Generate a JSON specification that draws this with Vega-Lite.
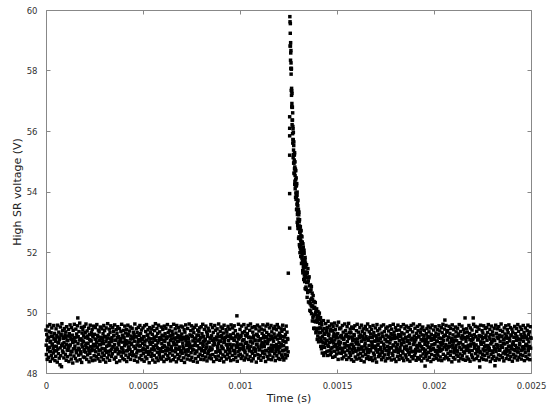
{
"$schema":"https://vega.github.io/schema/vega-lite/v6.json",
"width":485,"height":363,
"autosize":{"type":"none"},
"padding":{"left":46,"top":10,"right":19,"bottom":37},
"background":"white",
"config":{"view":{"stroke":"#888","strokeWidth":1},"font":"DejaVu Sans"},
"data":{"values":[
{"t":1257,"v":59.78},{"t":1256,"v":56.47},{"t":1256,"v":56.09},{"t":1256,"v":55.84},{"t":1256,"v":55.2},{"t":1256,"v":53.93},{"t":1256,"v":52.79},{"t":1249,"v":51.3},
{"t":1258,"v":59.61},{"t":1258.5,"v":58.81},{"t":1259,"v":59.23},{"t":1259.5,"v":59.55},{"t":1260,"v":58.81},{"t":1260.5,"v":58.34},{"t":1261,"v":58.92},{"t":1261.5,"v":58.58},{"t":1262,"v":58.07},{"t":1262.5,"v":58.66},{"t":1263,"v":58.25},{"t":1263.5,"v":57.88},{"t":1264,"v":57.34},{"t":1264.5,"v":58.04},{"t":1265,"v":58.07},{"t":1265.5,"v":57.18},{"t":1266,"v":57.41},{"t":1266.5,"v":56.8},{"t":1267,"v":57.32},{"t":1267.5,"v":56.91},{"t":1268,"v":57.24},{"t":1268.5,"v":56.21},{"t":1269,"v":56.78},{"t":1269.5,"v":56.36},{"t":1270,"v":56.79},{"t":1270.5,"v":56.36},{"t":1271,"v":55.91},{"t":1271.5,"v":56.6},{"t":1272,"v":55.6},{"t":1272.5,"v":56.15},{"t":1273,"v":55.72},{"t":1273.5,"v":56.07},{"t":1274,"v":55.12},{"t":1274.5,"v":55.71},{"t":1275,"v":55.95},{"t":1275.5,"v":55.22},{"t":1276,"v":55.37},{"t":1276.5,"v":54.94},{"t":1277,"v":55.52},{"t":1277.5,"v":55.64},{"t":1278,"v":54.94},{"t":1278.5,"v":54.61},{"t":1279,"v":55.2},{"t":1279.5,"v":55.04},{"t":1280,"v":54.59},{"t":1280.5,"v":55.22},{"t":1281,"v":54.75},{"t":1281.5,"v":55.28},{"t":1282,"v":54.23},{"t":1282.5,"v":54.81},{"t":1283,"v":54.34},{"t":1283.5,"v":54.98},{"t":1284,"v":54.53},{"t":1284.5,"v":54.09},{"t":1285,"v":54.69},{"t":1285.5,"v":54.74},{"t":1286,"v":54.26},{"t":1286.5,"v":53.81},{"t":1287,"v":54.39},{"t":1287.5,"v":54.69},{"t":1288,"v":53.95},{"t":1288.5,"v":54.19},{"t":1289,"v":53.74},{"t":1289.5,"v":54.45},{"t":1290,"v":54.19},{"t":1290.5,"v":53.83},{"t":1291,"v":54.2},{"t":1291.5,"v":53.4},{"t":1292,"v":53.87},{"t":1292.5,"v":54.26},{"t":1293,"v":53.42},{"t":1293.5,"v":53.88},{"t":1294,"v":53.57},{"t":1294.5,"v":53.98},{"t":1295,"v":52.98},{"t":1295.5,"v":53.6},{"t":1296,"v":53.24},{"t":1296.5,"v":53.72},{"t":1297,"v":53.33},{"t":1297.5,"v":52.88},{"t":1298,"v":53.53},{"t":1298.5,"v":53.7},{"t":1299,"v":53.09},{"t":1299.5,"v":52.78},{"t":1300,"v":53.25},
{"t":1301,"v":52.78},{"t":1301,"v":53.41},{"t":1302,"v":53.06},{"t":1302,"v":52.45},{"t":1303,"v":53.23},{"t":1303,"v":52.81},{"t":1304,"v":53.32},{"t":1304,"v":52.5},{"t":1305,"v":52.77},{"t":1305,"v":53.0},{"t":1306,"v":52.24},{"t":1306,"v":52.86},{"t":1307,"v":52.45},{"t":1307,"v":53.07},{"t":1308,"v":52.18},{"t":1308,"v":52.65},{"t":1309,"v":52.83},{"t":1309,"v":51.98},{"t":1310,"v":52.66},{"t":1310,"v":52.44},{"t":1311,"v":52.84},{"t":1311,"v":52.13},{"t":1312,"v":52.25},{"t":1312,"v":52.73},{"t":1313,"v":52.38},{"t":1313,"v":51.85},{"t":1314,"v":52.54},{"t":1314,"v":52.06},{"t":1315,"v":52.7},{"t":1315,"v":51.86},{"t":1316,"v":52.31},{"t":1316,"v":52.12},{"t":1317,"v":52.52},{"t":1317,"v":51.62},{"t":1318,"v":52.33},{"t":1318,"v":52.11},{"t":1319,"v":51.8},{"t":1319,"v":52.5},{"t":1320,"v":51.87},{"t":1320,"v":52.32},
{"t":1321,"v":52.32},{"t":1322,"v":51.7},{"t":1323,"v":51.96},{"t":1324,"v":51.31},{"t":1325,"v":52.03},{"t":1326,"v":52.16},{"t":1327,"v":51.34},{"t":1328,"v":51.65},{"t":1329,"v":51.47},{"t":1330,"v":52.06},{"t":1331,"v":51.1},{"t":1332,"v":51.64},{"t":1333,"v":51.49},{"t":1334,"v":51.12},{"t":1335,"v":51.74},{"t":1336,"v":50.79},{"t":1337,"v":51.51},{"t":1338,"v":51.18},{"t":1339,"v":51.57},{"t":1340,"v":50.84},
{"t":1321.5,"v":51.63},{"t":1322.5,"v":52.08},{"t":1323.5,"v":51.39},{"t":1324.5,"v":52.27},{"t":1325.5,"v":51.73},{"t":1326.5,"v":51.52},{"t":1327.5,"v":51.96},{"t":1328.5,"v":51.09},{"t":1329.5,"v":51.71},{"t":1330.5,"v":51.96},{"t":1331.5,"v":51.24},{"t":1332.5,"v":51.52},{"t":1333.5,"v":51.02},{"t":1334.5,"v":51.63},{"t":1335.5,"v":51.82},{"t":1336.5,"v":51.2},{"t":1337.5,"v":51.63},{"t":1338.5,"v":50.79},{"t":1339.5,"v":51.34},{"t":1340.5,"v":51.16},
{"t":1341,"v":51.29},{"t":1342,"v":50.76},{"t":1343,"v":51.58},{"t":1344,"v":50.99},{"t":1345,"v":51.3},{"t":1346,"v":50.5},{"t":1347,"v":51.32},{"t":1348,"v":51.0},{"t":1349,"v":50.66},{"t":1350,"v":51.45},{"t":1351,"v":50.7},{"t":1352,"v":51.04},{"t":1353,"v":50.35},{"t":1354,"v":51.14},{"t":1355,"v":50.7},{"t":1356,"v":51.18},{"t":1357,"v":50.33},{"t":1358,"v":50.72},{"t":1359,"v":50.88},{"t":1360,"v":50.07},{"t":1361,"v":50.7},{"t":1362,"v":50.29},{"t":1363,"v":50.91},{"t":1364,"v":50.04},{"t":1365,"v":50.43},{"t":1366,"v":50.75},{"t":1367,"v":50.23},{"t":1368,"v":50.86},{"t":1369,"v":49.96},{"t":1370,"v":50.47},{"t":1371,"v":50.19},{"t":1372,"v":50.64},{"t":1373,"v":49.72},{"t":1374,"v":50.42},{"t":1375,"v":50.22},{"t":1376,"v":49.83},{"t":1377,"v":50.56},{"t":1378,"v":49.89},{"t":1379,"v":50.36},{"t":1380,"v":49.48},{"t":1381,"v":50.14},{"t":1382,"v":50.36},{"t":1383,"v":49.71},{"t":1384,"v":49.46},{"t":1385,"v":50.17},{"t":1386,"v":49.93},{"t":1387,"v":49.48},{"t":1388,"v":50.33},{"t":1389,"v":49.69},{"t":1390,"v":50.0},{"t":1391,"v":49.33},{"t":1392,"v":50.09},{"t":1393,"v":49.72},{"t":1394,"v":49.4},{"t":1395,"v":50.12},{"t":1396,"v":49.46},{"t":1397,"v":49.81},{"t":1398,"v":49.11},{"t":1399,"v":49.9},{"t":1400,"v":49.68},{"t":1401,"v":49.22},{"t":1402,"v":50.03},{"t":1403,"v":49.46},{"t":1404,"v":49.78},{"t":1405,"v":49.03},{"t":1406,"v":49.89},{"t":1407,"v":49.33},{"t":1408,"v":49.49},{"t":1409,"v":49.98},{"t":1410,"v":49.05},{"t":1411,"v":49.63},{"t":1412,"v":49.16},{"t":1413,"v":49.77},{"t":1414,"v":49.34},{"t":1415,"v":49.83},{"t":1416,"v":48.88},{"t":1417,"v":49.49},{"t":1418,"v":49.14},{"t":1419,"v":49.67},
{"t":0,"v":49.42},{"t":2,"v":48.61},{"t":4,"v":49.27},{"t":6,"v":48.45},{"t":8,"v":49.55},{"t":10,"v":48.83},{"t":12,"v":49.18},{"t":14,"v":48.52},{"t":16,"v":49.38},{"t":18,"v":48.71},{"t":20,"v":49.6},{"t":22,"v":48.39},{"t":24,"v":49.05},{"t":26,"v":49.33},{"t":28,"v":48.58},{"t":30,"v":49.49},{"t":32,"v":48.92},{"t":34,"v":48.47},{"t":36,"v":49.21},{"t":38,"v":48.66},{"t":40,"v":49.57},{"t":42,"v":48.88},{"t":44,"v":49.31},{"t":46,"v":48.41},{"t":48,"v":49.12},
{"t":50,"v":48.55},{"t":52,"v":49.46},{"t":54,"v":48.73},{"t":56,"v":49.24},{"t":58,"v":48.36},{"t":60,"v":49.58},{"t":62,"v":49.01},{"t":64,"v":48.64},{"t":66,"v":49.35},{"t":68,"v":48.49},{"t":70,"v":49.16},{"t":72,"v":48.27},{"t":74,"v":49.52},{"t":76,"v":48.57},{"t":78,"v":49.28},{"t":80,"v":48.21},{"t":82,"v":49.63},{"t":84,"v":48.96},{"t":86,"v":49.4},{"t":88,"v":48.68},{"t":90,"v":49.19},{"t":92,"v":48.5},{"t":94,"v":49.47},{"t":96,"v":48.85},{"t":98,"v":49.26},
{"t":100,"v":48.62},{"t":102,"v":49.36},{"t":104,"v":48.42},{"t":106,"v":49.53},{"t":108,"v":49.09},{"t":110,"v":48.54},{"t":112,"v":49.22},{"t":114,"v":48.75},{"t":116,"v":49.44},{"t":118,"v":48.38},{"t":120,"v":49.3},{"t":122,"v":48.9},{"t":124,"v":49.59},{"t":126,"v":48.6},{"t":128,"v":49.14},{"t":130,"v":48.46},{"t":132,"v":49.5},{"t":134,"v":48.7},{"t":136,"v":49.25},{"t":138,"v":48.33},{"t":140,"v":49.41},{"t":142,"v":49.03},{"t":144,"v":48.56},{"t":146,"v":49.61},{"t":148,"v":48.81},
{"t":150,"v":49.17},{"t":152,"v":48.48},{"t":154,"v":49.45},{"t":156,"v":48.67},{"t":158,"v":49.29},{"t":160,"v":48.4},{"t":162,"v":49.56},{"t":164,"v":49.82},{"t":166,"v":49.2},{"t":168,"v":48.59},{"t":170,"v":49.37},{"t":172,"v":48.77},{"t":174,"v":49.65},{"t":176,"v":48.44},{"t":178,"v":49.1},{"t":180,"v":48.63},{"t":182,"v":49.51},{"t":184,"v":48.35},{"t":186,"v":49.32},{"t":188,"v":48.86},{"t":190,"v":49.43},{"t":192,"v":48.53},{"t":194,"v":49.23},{"t":196,"v":48.72},{"t":198,"v":49.54},
{"t":200,"v":48.51},{"t":202,"v":49.34},{"t":204,"v":48.69},{"t":206,"v":49.62},{"t":208,"v":48.98},{"t":210,"v":48.45},{"t":212,"v":49.39},{"t":214,"v":48.6},{"t":216,"v":49.15},{"t":218,"v":48.82},{"t":220,"v":49.48},{"t":222,"v":48.37},{"t":224,"v":49.27},{"t":226,"v":48.65},{"t":228,"v":49.58},{"t":230,"v":49.07},{"t":232,"v":48.5},{"t":234,"v":49.33},{"t":236,"v":48.74},{"t":238,"v":49.44},{"t":240,"v":48.41},{"t":242,"v":49.19},{"t":244,"v":48.89},{"t":246,"v":49.55},{"t":248,"v":48.57},
{"t":250,"v":49.28},{"t":252,"v":48.43},{"t":254,"v":49.5},{"t":256,"v":48.7},{"t":258,"v":49.11},{"t":260,"v":48.55},{"t":262,"v":49.6},{"t":264,"v":48.84},{"t":266,"v":49.24},{"t":268,"v":48.47},{"t":270,"v":49.42},{"t":272,"v":48.62},{"t":274,"v":49.36},{"t":276,"v":48.95},{"t":278,"v":48.39},{"t":280,"v":49.52},{"t":282,"v":48.76},{"t":284,"v":49.18},{"t":286,"v":48.53},{"t":288,"v":49.46},{"t":290,"v":49.0},{"t":292,"v":48.66},{"t":294,"v":49.3},{"t":296,"v":48.44},{"t":298,"v":49.57},
{"t":300,"v":48.58},{"t":302,"v":49.4},{"t":304,"v":48.8},{"t":306,"v":49.21},{"t":308,"v":48.36},{"t":310,"v":49.49},{"t":312,"v":48.68},{"t":314,"v":49.13},{"t":316,"v":48.5},{"t":318,"v":49.63},{"t":320,"v":48.91},{"t":322,"v":49.26},{"t":324,"v":48.6},{"t":326,"v":49.45},{"t":328,"v":48.42},{"t":330,"v":49.34},{"t":332,"v":48.73},{"t":334,"v":49.56},{"t":336,"v":49.04},{"t":338,"v":48.55},{"t":340,"v":49.17},{"t":342,"v":48.64},{"t":344,"v":49.5},{"t":346,"v":48.87},{"t":348,"v":49.38},
{"t":350,"v":49.23},{"t":352,"v":48.46},{"t":354,"v":49.59},{"t":356,"v":48.71},{"t":358,"v":49.08},{"t":360,"v":48.52},{"t":362,"v":49.43},{"t":364,"v":48.35},{"t":366,"v":49.31},{"t":368,"v":48.78},{"t":370,"v":49.53},{"t":372,"v":48.63},{"t":374,"v":49.2},{"t":376,"v":48.93},{"t":378,"v":49.47},{"t":380,"v":48.4},{"t":382,"v":49.12},{"t":384,"v":48.69},{"t":386,"v":49.37},{"t":388,"v":48.56},{"t":390,"v":49.61},{"t":392,"v":48.83},{"t":394,"v":49.25},{"t":396,"v":48.48},{"t":398,"v":49.41},
{"t":400,"v":48.67},{"t":402,"v":49.16},{"t":404,"v":48.44},{"t":406,"v":49.55},{"t":408,"v":48.97},{"t":410,"v":49.32},{"t":412,"v":48.59},{"t":414,"v":49.44},{"t":416,"v":48.38},{"t":418,"v":49.06},{"t":420,"v":48.74},{"t":422,"v":49.58},{"t":424,"v":48.51},{"t":426,"v":49.29},{"t":428,"v":48.86},{"t":430,"v":49.39},{"t":432,"v":48.62},{"t":434,"v":49.52},{"t":436,"v":48.45},{"t":438,"v":49.22},{"t":440,"v":48.99},{"t":442,"v":48.7},{"t":444,"v":49.48},{"t":446,"v":48.57},{"t":448,"v":49.14},
{"t":450,"v":49.35},{"t":452,"v":48.6},{"t":454,"v":49.27},{"t":456,"v":48.42},{"t":458,"v":49.62},{"t":460,"v":48.81},{"t":462,"v":49.19},{"t":464,"v":48.54},{"t":466,"v":49.46},{"t":468,"v":48.66},{"t":470,"v":49.34},{"t":472,"v":48.37},{"t":474,"v":49.02},{"t":476,"v":49.51},{"t":478,"v":48.73},{"t":480,"v":49.24},{"t":482,"v":48.49},{"t":484,"v":49.57},{"t":486,"v":48.9},{"t":488,"v":49.3},{"t":490,"v":48.58},{"t":492,"v":49.42},{"t":494,"v":48.44},{"t":496,"v":49.1},{"t":498,"v":48.76},
{"t":500,"v":49.49},{"t":502,"v":48.64},{"t":504,"v":49.2},{"t":506,"v":48.39},{"t":508,"v":49.56},{"t":510,"v":49.05},{"t":512,"v":48.53},{"t":514,"v":49.37},{"t":516,"v":48.69},{"t":518,"v":49.6},{"t":520,"v":48.47},{"t":522,"v":49.26},{"t":524,"v":48.85},{"t":526,"v":49.43},{"t":528,"v":48.61},{"t":530,"v":49.15},{"t":532,"v":48.34},{"t":534,"v":49.5},{"t":536,"v":48.72},{"t":538,"v":49.33},{"t":540,"v":48.96},{"t":542,"v":48.55},{"t":544,"v":49.45},{"t":546,"v":48.65},{"t":548,"v":49.28},
{"t":550,"v":48.43},{"t":552,"v":49.54},{"t":554,"v":48.78},{"t":556,"v":49.12},{"t":558,"v":48.58},{"t":560,"v":49.4},{"t":562,"v":48.36},{"t":564,"v":49.63},{"t":566,"v":48.92},{"t":568,"v":49.21},{"t":570,"v":48.5},{"t":572,"v":49.47},{"t":574,"v":48.68},{"t":576,"v":49.31},{"t":578,"v":48.41},{"t":580,"v":49.58},{"t":582,"v":49.07},{"t":584,"v":48.62},{"t":586,"v":49.36},{"t":588,"v":48.52},{"t":590,"v":49.17},{"t":592,"v":48.8},{"t":594,"v":49.52},{"t":596,"v":48.46},{"t":598,"v":49.25},
{"t":600,"v":48.71},{"t":602,"v":49.44},{"t":604,"v":48.55},{"t":606,"v":49.09},{"t":608,"v":48.38},{"t":610,"v":49.55},{"t":612,"v":48.87},{"t":614,"v":49.3},{"t":616,"v":48.63},{"t":618,"v":49.48},{"t":620,"v":48.45},{"t":622,"v":49.19},{"t":624,"v":48.74},{"t":626,"v":49.6},{"t":628,"v":48.57},{"t":630,"v":49.34},{"t":632,"v":48.98},{"t":634,"v":48.48},{"t":636,"v":49.41},{"t":638,"v":48.66},{"t":640,"v":49.23},{"t":642,"v":48.4},{"t":644,"v":49.53},{"t":646,"v":48.82},{"t":648,"v":49.13},
{"t":650,"v":49.38},{"t":652,"v":48.59},{"t":654,"v":49.27},{"t":656,"v":48.44},{"t":658,"v":49.61},{"t":660,"v":48.93},{"t":662,"v":49.16},{"t":664,"v":48.53},{"t":666,"v":49.46},{"t":668,"v":48.7},{"t":670,"v":49.32},{"t":672,"v":48.37},{"t":674,"v":49.57},{"t":676,"v":49.04},{"t":678,"v":48.61},{"t":680,"v":49.24},{"t":682,"v":48.47},{"t":684,"v":49.5},{"t":686,"v":48.79},{"t":688,"v":49.39},{"t":690,"v":48.56},{"t":692,"v":49.11},{"t":694,"v":48.69},{"t":696,"v":49.55},{"t":698,"v":48.42},
{"t":700,"v":49.29},{"t":702,"v":48.65},{"t":704,"v":49.52},{"t":706,"v":48.89},{"t":708,"v":49.18},{"t":710,"v":48.5},{"t":712,"v":49.43},{"t":714,"v":48.35},{"t":716,"v":49.35},{"t":718,"v":48.76},{"t":720,"v":49.59},{"t":722,"v":48.6},{"t":724,"v":49.22},{"t":726,"v":49.0},{"t":728,"v":48.46},{"t":730,"v":49.47},{"t":732,"v":48.72},{"t":734,"v":49.14},{"t":736,"v":48.58},{"t":738,"v":49.62},{"t":740,"v":48.84},{"t":742,"v":49.26},{"t":744,"v":48.43},{"t":746,"v":49.4},{"t":748,"v":48.67},
{"t":750,"v":49.56},{"t":752,"v":48.52},{"t":754,"v":49.2},{"t":756,"v":48.77},{"t":758,"v":49.45},{"t":760,"v":48.39},{"t":762,"v":49.33},{"t":764,"v":48.91},{"t":766,"v":49.51},{"t":768,"v":48.64},{"t":770,"v":49.12},{"t":772,"v":48.48},{"t":774,"v":49.58},{"t":776,"v":48.7},{"t":778,"v":49.25},{"t":780,"v":48.36},{"t":782,"v":49.42},{"t":784,"v":49.06},{"t":786,"v":48.55},{"t":788,"v":49.37},{"t":790,"v":48.81},{"t":792,"v":49.49},{"t":794,"v":48.62},{"t":796,"v":49.17},{"t":798,"v":48.45},
{"t":800,"v":49.53},{"t":802,"v":48.73},{"t":804,"v":49.3},{"t":806,"v":48.57},{"t":808,"v":49.61},{"t":810,"v":48.95},{"t":812,"v":49.21},{"t":814,"v":48.44},{"t":816,"v":49.44},{"t":818,"v":48.68},{"t":820,"v":49.08},{"t":822,"v":48.53},{"t":824,"v":49.55},{"t":826,"v":48.86},{"t":828,"v":49.36},{"t":830,"v":48.4},{"t":832,"v":49.27},{"t":834,"v":48.63},{"t":836,"v":49.48},{"t":838,"v":49.02},{"t":840,"v":48.5},{"t":842,"v":49.39},{"t":844,"v":48.75},{"t":846,"v":49.15},{"t":848,"v":48.59},
{"t":850,"v":49.6},{"t":852,"v":48.47},{"t":854,"v":49.23},{"t":856,"v":48.8},{"t":858,"v":49.5},{"t":860,"v":48.61},{"t":862,"v":49.34},{"t":864,"v":48.38},{"t":866,"v":49.13},{"t":868,"v":48.97},{"t":870,"v":49.57},{"t":872,"v":48.54},{"t":874,"v":49.41},{"t":876,"v":48.69},{"t":878,"v":49.19},{"t":880,"v":48.45},{"t":882,"v":49.46},{"t":884,"v":48.88},{"t":886,"v":49.29},{"t":888,"v":48.56},{"t":890,"v":49.62},{"t":892,"v":48.72},{"t":894,"v":49.06},{"t":896,"v":48.42},{"t":898,"v":49.38},
{"t":900,"v":48.66},{"t":902,"v":49.52},{"t":904,"v":48.49},{"t":906,"v":49.24},{"t":908,"v":48.83},{"t":910,"v":49.47},{"t":912,"v":48.6},{"t":914,"v":49.32},{"t":916,"v":48.37},{"t":918,"v":49.58},{"t":920,"v":49.03},{"t":922,"v":48.55},{"t":924,"v":49.18},{"t":926,"v":48.71},{"t":928,"v":49.43},{"t":930,"v":48.46},{"t":932,"v":49.35},{"t":934,"v":48.94},{"t":936,"v":48.62},{"t":938,"v":49.54},{"t":940,"v":48.78},{"t":942,"v":49.2},{"t":944,"v":48.51},{"t":946,"v":49.45},{"t":948,"v":48.67},
{"t":950,"v":49.26},{"t":952,"v":48.41},{"t":954,"v":49.59},{"t":956,"v":48.85},{"t":958,"v":49.14},{"t":960,"v":48.58},{"t":962,"v":49.49},{"t":964,"v":48.74},{"t":966,"v":49.31},{"t":968,"v":48.44},{"t":970,"v":49.56},{"t":972,"v":49.08},{"t":974,"v":48.64},{"t":976,"v":49.4},{"t":978,"v":48.52},{"t":980,"v":49.22},{"t":982,"v":48.9},{"t":984,"v":49.89},{"t":986,"v":48.39},{"t":988,"v":49.28},{"t":990,"v":48.7},{"t":992,"v":49.61},{"t":994,"v":48.57},{"t":996,"v":49.17},{"t":998,"v":48.81},
{"t":1000,"v":49.44},{"t":1002,"v":48.62},{"t":1004,"v":49.21},{"t":1006,"v":48.48},{"t":1008,"v":49.55},{"t":1010,"v":48.93},{"t":1012,"v":49.33},{"t":1014,"v":48.56},{"t":1016,"v":49.1},{"t":1018,"v":48.77},{"t":1020,"v":49.6},{"t":1022,"v":48.43},{"t":1024,"v":49.37},{"t":1026,"v":48.68},{"t":1028,"v":49.25},{"t":1030,"v":48.5},{"t":1032,"v":49.48},{"t":1034,"v":49.01},{"t":1036,"v":48.6},{"t":1038,"v":49.3},{"t":1040,"v":48.84},{"t":1042,"v":49.57},{"t":1044,"v":48.45},{"t":1046,"v":49.19},{"t":1048,"v":48.73},
{"t":1050,"v":49.41},{"t":1052,"v":48.54},{"t":1054,"v":49.62},{"t":1056,"v":48.88},{"t":1058,"v":49.16},{"t":1060,"v":48.4},{"t":1062,"v":49.5},{"t":1064,"v":48.65},{"t":1066,"v":49.35},{"t":1068,"v":48.47},{"t":1070,"v":49.23},{"t":1072,"v":48.79},{"t":1074,"v":49.53},{"t":1076,"v":48.58},{"t":1078,"v":49.07},{"t":1080,"v":48.71},{"t":1082,"v":49.46},{"t":1084,"v":48.36},{"t":1086,"v":49.28},{"t":1088,"v":48.95},{"t":1090,"v":49.58},{"t":1092,"v":48.61},{"t":1094,"v":49.2},{"t":1096,"v":48.49},{"t":1098,"v":49.39},
{"t":1100,"v":48.76},{"t":1102,"v":49.52},{"t":1104,"v":48.57},{"t":1106,"v":49.12},{"t":1108,"v":48.42},{"t":1110,"v":49.45},{"t":1112,"v":48.86},{"t":1114,"v":49.31},{"t":1116,"v":48.66},{"t":1118,"v":49.59},{"t":1120,"v":48.51},{"t":1122,"v":49.24},{"t":1124,"v":48.98},{"t":1126,"v":49.42},{"t":1128,"v":48.63},{"t":1130,"v":49.17},{"t":1132,"v":48.38},{"t":1134,"v":49.55},{"t":1136,"v":48.74},{"t":1138,"v":49.34},{"t":1140,"v":48.55},{"t":1142,"v":49.61},{"t":1144,"v":49.05},{"t":1146,"v":48.46},{"t":1148,"v":49.27},
{"t":1150,"v":48.69},{"t":1152,"v":49.49},{"t":1154,"v":48.59},{"t":1156,"v":49.22},{"t":1158,"v":48.82},{"t":1160,"v":49.57},{"t":1162,"v":48.44},{"t":1164,"v":49.36},{"t":1166,"v":48.72},{"t":1168,"v":49.13},{"t":1170,"v":48.53},{"t":1172,"v":49.47},{"t":1174,"v":48.91},{"t":1176,"v":49.29},{"t":1178,"v":48.64},{"t":1180,"v":49.54},{"t":1182,"v":48.41},{"t":1184,"v":49.19},{"t":1186,"v":48.78},{"t":1188,"v":49.43},{"t":1190,"v":48.57},{"t":1192,"v":49.6},{"t":1194,"v":48.87},{"t":1196,"v":49.25},{"t":1198,"v":48.48},
{"t":1200,"v":49.51},{"t":1202,"v":48.67},{"t":1204,"v":49.32},{"t":1206,"v":48.45},{"t":1208,"v":49.15},{"t":1210,"v":48.89},{"t":1212,"v":49.46},{"t":1214,"v":48.6},{"t":1216,"v":49.38},{"t":1218,"v":48.52},{"t":1220,"v":49.58},{"t":1222,"v":48.75},{"t":1224,"v":49.2},{"t":1226,"v":48.43},{"t":1228,"v":49.44},{"t":1230,"v":49.04},{"t":1232,"v":48.62},{"t":1234,"v":49.27},{"t":1236,"v":48.5},{"t":1238,"v":49.55},{"t":1240,"v":48.81},{"t":1242,"v":49.35},{"t":1244,"v":48.58},{"t":1246,"v":49.11},{"t":1248,"v":48.7},
{"t":1,"v":48.92},{"t":5,"v":49.08},{"t":9,"v":48.77},{"t":13,"v":49.16},{"t":17,"v":48.85},{"t":21,"v":49.02},{"t":25,"v":48.71},{"t":29,"v":49.21},{"t":33,"v":48.96},{"t":37,"v":48.81},{"t":41,"v":49.12},{"t":45,"v":48.74},{"t":49,"v":49.05},{"t":53,"v":48.88},{"t":57,"v":49.19},{"t":61,"v":48.79},{"t":65,"v":48.99},{"t":69,"v":49.1},{"t":73,"v":48.83},{"t":77,"v":49.25},{"t":81,"v":48.9},{"t":85,"v":48.73},{"t":89,"v":49.14},{"t":93,"v":49.0},
{"t":97,"v":48.86},{"t":101,"v":49.18},{"t":105,"v":48.95},{"t":109,"v":48.76},{"t":113,"v":49.07},{"t":117,"v":48.84},{"t":121,"v":49.23},{"t":125,"v":48.93},{"t":129,"v":48.72},{"t":133,"v":49.11},{"t":137,"v":49.01},{"t":141,"v":48.8},{"t":145,"v":49.15},{"t":149,"v":48.89},{"t":153,"v":49.04},{"t":157,"v":48.75},{"t":161,"v":49.2},{"t":165,"v":48.97},{"t":169,"v":48.82},{"t":173,"v":49.09},{"t":177,"v":48.7},{"t":181,"v":49.13},{"t":185,"v":48.94},{"t":189,"v":49.06},
{"t":193,"v":49.03},{"t":197,"v":48.78},{"t":201,"v":49.17},{"t":205,"v":48.91},{"t":209,"v":48.84},{"t":213,"v":49.22},{"t":217,"v":48.98},{"t":221,"v":48.73},{"t":225,"v":49.1},{"t":229,"v":48.87},{"t":233,"v":49.06},{"t":237,"v":48.8},{"t":241,"v":49.24},{"t":245,"v":48.95},{"t":249,"v":48.76},{"t":253,"v":49.12},{"t":257,"v":48.9},{"t":261,"v":49.01},{"t":265,"v":48.85},{"t":269,"v":49.19},{"t":273,"v":48.74},{"t":277,"v":49.08},{"t":281,"v":48.93},{"t":285,"v":49.15},
{"t":289,"v":48.81},{"t":293,"v":49.11},{"t":297,"v":48.97},{"t":301,"v":49.2},{"t":305,"v":48.75},{"t":309,"v":49.04},{"t":313,"v":48.88},{"t":317,"v":49.16},{"t":321,"v":48.72},{"t":325,"v":49.0},{"t":329,"v":48.92},{"t":333,"v":49.13},{"t":337,"v":48.79},{"t":341,"v":49.07},{"t":345,"v":48.86},{"t":349,"v":49.25},{"t":353,"v":48.94},{"t":357,"v":48.77},{"t":361,"v":49.09},{"t":365,"v":48.83},{"t":369,"v":49.18},{"t":373,"v":48.99},{"t":377,"v":48.71},{"t":381,"v":49.05},
{"t":385,"v":49.14},{"t":389,"v":48.83},{"t":393,"v":49.02},{"t":397,"v":48.76},{"t":401,"v":49.19},{"t":405,"v":48.9},{"t":409,"v":49.07},{"t":413,"v":48.73},{"t":417,"v":48.96},{"t":421,"v":49.23},{"t":425,"v":48.85},{"t":429,"v":49.0},{"t":433,"v":48.78},{"t":437,"v":49.12},{"t":441,"v":48.94},{"t":445,"v":48.7},{"t":449,"v":49.17},{"t":453,"v":48.88},{"t":457,"v":49.05},{"t":461,"v":48.81},{"t":465,"v":49.21},{"t":469,"v":48.92},{"t":473,"v":48.75},{"t":477,"v":49.1},
{"t":481,"v":48.89},{"t":485,"v":49.06},{"t":489,"v":48.74},{"t":493,"v":49.15},{"t":497,"v":48.98},{"t":501,"v":48.82},{"t":505,"v":49.2},{"t":509,"v":48.93},{"t":513,"v":48.77},{"t":517,"v":49.09},{"t":521,"v":48.86},{"t":525,"v":49.24},{"t":529,"v":48.71},{"t":533,"v":49.03},{"t":537,"v":48.95},{"t":541,"v":49.13},{"t":545,"v":48.79},{"t":549,"v":49.01},{"t":553,"v":48.87},{"t":557,"v":49.18},{"t":561,"v":48.76},{"t":565,"v":49.08},{"t":569,"v":48.91},{"t":573,"v":48.84},
{"t":577,"v":49.0},{"t":581,"v":48.8},{"t":585,"v":49.16},{"t":589,"v":48.72},{"t":593,"v":49.11},{"t":597,"v":48.97},{"t":601,"v":48.85},{"t":605,"v":49.22},{"t":609,"v":48.9},{"t":613,"v":49.04},{"t":617,"v":48.75},{"t":621,"v":49.14},{"t":625,"v":48.83},{"t":629,"v":49.19},{"t":633,"v":48.94},{"t":637,"v":48.78},{"t":641,"v":49.07},{"t":645,"v":48.88},{"t":649,"v":49.25},{"t":653,"v":48.73},{"t":657,"v":49.02},{"t":661,"v":48.96},{"t":665,"v":49.12},{"t":669,"v":48.81},
{"t":673,"v":48.93},{"t":677,"v":49.17},{"t":681,"v":48.79},{"t":685,"v":49.05},{"t":689,"v":48.86},{"t":693,"v":49.21},{"t":697,"v":48.74},{"t":701,"v":49.1},{"t":705,"v":48.99},{"t":709,"v":48.82},{"t":713,"v":49.13},{"t":717,"v":48.7},{"t":721,"v":49.08},{"t":725,"v":48.91},{"t":729,"v":49.18},{"t":733,"v":48.77},{"t":737,"v":49.03},{"t":741,"v":48.95},{"t":745,"v":48.84},{"t":749,"v":49.23},{"t":753,"v":48.89},{"t":757,"v":49.06},{"t":761,"v":48.76},{"t":765,"v":49.15},
{"t":769,"v":49.0},{"t":773,"v":49.14},{"t":777,"v":48.73},{"t":781,"v":48.9},{"t":785,"v":49.25},{"t":789,"v":48.83},{"t":793,"v":49.1},{"t":797,"v":48.99},{"t":801,"v":48.79},{"t":805,"v":49.19},{"t":809,"v":48.88},{"t":813,"v":49.05},{"t":817,"v":48.74},{"t":821,"v":49.12},{"t":825,"v":48.81},{"t":829,"v":48.96},{"t":833,"v":49.21},{"t":837,"v":48.71},{"t":841,"v":49.02},{"t":845,"v":48.85},{"t":849,"v":49.16},{"t":853,"v":48.77},{"t":857,"v":49.08},{"t":861,"v":48.92},
{"t":865,"v":49.06},{"t":869,"v":48.94},{"t":873,"v":49.13},{"t":877,"v":48.7},{"t":881,"v":49.09},{"t":885,"v":48.82},{"t":889,"v":48.97},{"t":893,"v":49.2},{"t":897,"v":48.75},{"t":901,"v":49.04},{"t":905,"v":48.89},{"t":909,"v":49.15},{"t":913,"v":48.8},{"t":917,"v":49.01},{"t":921,"v":49.11},{"t":925,"v":48.72},{"t":929,"v":48.93},{"t":933,"v":49.23},{"t":937,"v":48.84},{"t":941,"v":49.07},{"t":945,"v":48.76},{"t":949,"v":48.95},{"t":953,"v":49.18},{"t":957,"v":48.86},
{"t":961,"v":49.15},{"t":965,"v":48.93},{"t":969,"v":49.08},{"t":973,"v":48.74},{"t":977,"v":49.19},{"t":981,"v":48.85},{"t":985,"v":49.01},{"t":989,"v":48.9},{"t":993,"v":49.12},{"t":997,"v":48.76},{"t":1001,"v":48.95},{"t":1005,"v":49.24},{"t":1009,"v":48.8},{"t":1013,"v":49.06},{"t":1017,"v":48.87},{"t":1021,"v":49.1},{"t":1025,"v":48.73},{"t":1029,"v":48.98},{"t":1033,"v":49.22},{"t":1037,"v":48.84},{"t":1041,"v":48.91},{"t":1045,"v":49.17},{"t":1049,"v":48.78},{"t":1053,"v":49.03},
{"t":1057,"v":49.05},{"t":1061,"v":48.71},{"t":1065,"v":48.99},{"t":1069,"v":49.18},{"t":1073,"v":48.83},{"t":1077,"v":49.09},{"t":1081,"v":48.77},{"t":1085,"v":48.94},{"t":1089,"v":49.25},{"t":1093,"v":48.86},{"t":1097,"v":49.07},{"t":1101,"v":48.79},{"t":1105,"v":49.13},{"t":1109,"v":48.92},{"t":1113,"v":49.0},{"t":1117,"v":48.72},{"t":1121,"v":49.16},{"t":1125,"v":48.88},{"t":1129,"v":49.04},{"t":1133,"v":48.75},{"t":1137,"v":49.2},{"t":1141,"v":48.97},{"t":1145,"v":49.11},{"t":1149,"v":48.81},
{"t":1153,"v":49.1},{"t":1157,"v":48.75},{"t":1161,"v":48.92},{"t":1165,"v":49.21},{"t":1169,"v":48.81},{"t":1173,"v":49.05},{"t":1177,"v":48.88},{"t":1181,"v":49.17},{"t":1185,"v":48.7},{"t":1189,"v":48.94},{"t":1193,"v":49.12},{"t":1197,"v":48.78},{"t":1201,"v":49.0},{"t":1205,"v":48.85},{"t":1209,"v":49.23},{"t":1213,"v":48.96},{"t":1217,"v":48.73},{"t":1221,"v":49.07},{"t":1225,"v":48.9},{"t":1229,"v":49.19},{"t":1233,"v":48.76},{"t":1237,"v":49.02},{"t":1241,"v":48.83},{"t":1245,"v":49.14},
{"t":1420,"v":48.8},{"t":1422,"v":49.6},{"t":1424,"v":48.66},{"t":1426,"v":49.41},{"t":1428,"v":49.01},{"t":1430,"v":49.73},{"t":1432,"v":48.58},{"t":1434,"v":49.47},{"t":1436,"v":48.85},{"t":1438,"v":49.28},{"t":1440,"v":48.67},{"t":1442,"v":49.63},{"t":1444,"v":49.07},{"t":1446,"v":49.4},{"t":1448,"v":48.72},{"t":1450,"v":49.5},{"t":1452,"v":48.58},{"t":1454,"v":49.71},{"t":1456,"v":48.88},{"t":1458,"v":49.29},{"t":1460,"v":48.73},{"t":1462,"v":49.55},{"t":1464,"v":49.13},{"t":1466,"v":48.6},{"t":1468,"v":49.43},
{"t":1470,"v":48.68},{"t":1472,"v":49.62},{"t":1474,"v":48.84},{"t":1476,"v":49.4},{"t":1478,"v":48.52},{"t":1480,"v":49.54},{"t":1482,"v":48.99},{"t":1484,"v":49.31},{"t":1486,"v":48.72},{"t":1488,"v":49.65},{"t":1490,"v":48.55},{"t":1492,"v":49.43},{"t":1494,"v":48.89},{"t":1496,"v":49.18},{"t":1498,"v":48.63},{"t":1500,"v":49.56},{"t":1502,"v":48.76},{"t":1504,"v":49.3},{"t":1506,"v":48.45},{"t":1508,"v":49.68},{"t":1510,"v":49.04},{"t":1512,"v":48.66},{"t":1514,"v":49.46},{"t":1516,"v":48.81},{"t":1518,"v":49.21},
{"t":1520,"v":49.49},{"t":1522,"v":48.65},{"t":1524,"v":49.24},{"t":1526,"v":48.47},{"t":1528,"v":49.57},{"t":1530,"v":48.82},{"t":1532,"v":49.35},{"t":1534,"v":48.53},{"t":1536,"v":49.14},{"t":1538,"v":48.69},{"t":1540,"v":49.62},{"t":1542,"v":48.96},{"t":1544,"v":49.4},{"t":1546,"v":48.59},{"t":1548,"v":49.28},{"t":1550,"v":48.45},{"t":1552,"v":49.53},{"t":1554,"v":48.74},{"t":1556,"v":49.2},{"t":1558,"v":48.9},{"t":1560,"v":49.64},{"t":1562,"v":48.51},{"t":1564,"v":49.33},{"t":1566,"v":48.67},{"t":1568,"v":49.45},
{"t":1570,"v":48.58},{"t":1572,"v":49.33},{"t":1574,"v":48.44},{"t":1576,"v":49.52},{"t":1578,"v":48.95},{"t":1580,"v":49.18},{"t":1582,"v":48.67},{"t":1584,"v":49.47},{"t":1586,"v":48.39},{"t":1588,"v":49.27},{"t":1590,"v":48.81},{"t":1592,"v":49.56},{"t":1594,"v":48.53},{"t":1596,"v":49.12},{"t":1598,"v":48.72},{"t":1600,"v":49.4},{"t":1602,"v":48.46},{"t":1604,"v":49.61},{"t":1606,"v":49.0},{"t":1608,"v":48.6},{"t":1610,"v":49.35},{"t":1612,"v":48.76},{"t":1614,"v":49.22},{"t":1616,"v":48.49},{"t":1618,"v":49.5},
{"t":1620,"v":48.64},{"t":1622,"v":49.26},{"t":1624,"v":48.42},{"t":1626,"v":49.58},{"t":1628,"v":48.85},{"t":1630,"v":49.38},{"t":1632,"v":48.56},{"t":1634,"v":49.15},{"t":1636,"v":48.7},{"t":1638,"v":49.46},{"t":1640,"v":48.37},{"t":1642,"v":49.31},{"t":1644,"v":48.91},{"t":1646,"v":49.54},{"t":1648,"v":48.61},{"t":1650,"v":49.2},{"t":1652,"v":48.48},{"t":1654,"v":49.43},{"t":1656,"v":48.79},{"t":1658,"v":49.62},{"t":1660,"v":48.55},{"t":1662,"v":49.09},{"t":1664,"v":48.68},{"t":1666,"v":49.36},{"t":1668,"v":48.45},
{"t":1670,"v":49.53},{"t":1672,"v":48.73},{"t":1674,"v":49.29},{"t":1676,"v":48.51},{"t":1678,"v":49.44},{"t":1680,"v":48.88},{"t":1682,"v":49.17},{"t":1684,"v":48.41},{"t":1686,"v":49.57},{"t":1688,"v":48.66},{"t":1690,"v":49.34},{"t":1692,"v":48.59},{"t":1694,"v":49.05},{"t":1696,"v":48.47},{"t":1698,"v":49.49},{"t":1700,"v":48.82},{"t":1702,"v":49.23},{"t":1704,"v":48.36},{"t":1706,"v":49.6},{"t":1708,"v":48.69},{"t":1710,"v":49.4},{"t":1712,"v":48.96},{"t":1714,"v":48.54},{"t":1716,"v":49.28},{"t":1718,"v":48.63},
{"t":1720,"v":49.46},{"t":1722,"v":48.57},{"t":1724,"v":49.13},{"t":1726,"v":48.77},{"t":1728,"v":49.55},{"t":1730,"v":48.44},{"t":1732,"v":49.32},{"t":1734,"v":48.67},{"t":1736,"v":49.21},{"t":1738,"v":48.52},{"t":1740,"v":49.59},{"t":1742,"v":48.9},{"t":1744,"v":49.37},{"t":1746,"v":48.6},{"t":1748,"v":49.1},{"t":1750,"v":48.4},{"t":1752,"v":49.48},{"t":1754,"v":48.75},{"t":1756,"v":49.25},{"t":1758,"v":48.48},{"t":1760,"v":49.52},{"t":1762,"v":49.03},{"t":1764,"v":48.62},{"t":1766,"v":49.39},{"t":1768,"v":48.7},
{"t":1770,"v":49.19},{"t":1772,"v":48.5},{"t":1774,"v":49.56},{"t":1776,"v":48.84},{"t":1778,"v":49.3},{"t":1780,"v":48.43},{"t":1782,"v":49.45},{"t":1784,"v":48.65},{"t":1786,"v":49.14},{"t":1788,"v":48.58},{"t":1790,"v":49.61},{"t":1792,"v":48.93},{"t":1794,"v":49.35},{"t":1796,"v":48.46},{"t":1798,"v":49.24},{"t":1800,"v":48.71},{"t":1802,"v":49.5},{"t":1804,"v":48.38},{"t":1806,"v":49.41},{"t":1808,"v":48.8},{"t":1810,"v":49.16},{"t":1812,"v":48.55},{"t":1814,"v":49.58},{"t":1816,"v":48.68},{"t":1818,"v":49.27},
{"t":1820,"v":48.45},{"t":1822,"v":49.42},{"t":1824,"v":48.74},{"t":1826,"v":49.2},{"t":1828,"v":48.57},{"t":1830,"v":49.53},{"t":1832,"v":48.99},{"t":1834,"v":49.33},{"t":1836,"v":48.49},{"t":1838,"v":49.12},{"t":1840,"v":48.66},{"t":1842,"v":49.6},{"t":1844,"v":48.41},{"t":1846,"v":49.29},{"t":1848,"v":48.86},{"t":1850,"v":49.47},{"t":1852,"v":48.6},{"t":1854,"v":49.18},{"t":1856,"v":48.52},{"t":1858,"v":49.55},{"t":1860,"v":48.78},{"t":1862,"v":49.37},{"t":1864,"v":48.44},{"t":1866,"v":49.07},{"t":1868,"v":48.69},
{"t":1870,"v":49.5},{"t":1872,"v":48.61},{"t":1874,"v":49.25},{"t":1876,"v":48.39},{"t":1878,"v":49.43},{"t":1880,"v":48.83},{"t":1882,"v":49.57},{"t":1884,"v":48.54},{"t":1886,"v":49.15},{"t":1888,"v":48.72},{"t":1890,"v":49.36},{"t":1892,"v":48.47},{"t":1894,"v":49.62},{"t":1896,"v":48.95},{"t":1898,"v":49.22},{"t":1900,"v":48.58},{"t":1902,"v":49.48},{"t":1904,"v":48.67},{"t":1906,"v":49.1},{"t":1908,"v":48.42},{"t":1910,"v":49.31},{"t":1912,"v":48.88},{"t":1914,"v":49.54},{"t":1916,"v":48.51},{"t":1918,"v":49.4},
{"t":1920,"v":48.73},{"t":1922,"v":49.19},{"t":1924,"v":48.46},{"t":1926,"v":49.59},{"t":1928,"v":48.91},{"t":1930,"v":49.34},{"t":1932,"v":48.56},{"t":1934,"v":49.45},{"t":1936,"v":48.4},{"t":1938,"v":49.26},{"t":1940,"v":48.8},{"t":1942,"v":49.52},{"t":1944,"v":48.63},{"t":1946,"v":49.13},{"t":1948,"v":48.49},{"t":1950,"v":49.41},{"t":1952,"v":48.7},{"t":1954,"v":48.23},{"t":1956,"v":49.04},{"t":1958,"v":48.55},{"t":1960,"v":49.3},{"t":1962,"v":48.64},{"t":1964,"v":49.47},{"t":1966,"v":48.43},{"t":1968,"v":49.21},
{"t":1970,"v":49.55},{"t":1972,"v":48.68},{"t":1974,"v":49.36},{"t":1976,"v":48.52},{"t":1978,"v":49.17},{"t":1980,"v":48.85},{"t":1982,"v":49.49},{"t":1984,"v":48.38},{"t":1986,"v":49.28},{"t":1988,"v":48.61},{"t":1990,"v":49.58},{"t":1992,"v":48.77},{"t":1994,"v":49.11},{"t":1996,"v":48.45},{"t":1998,"v":49.42},{"t":2000,"v":48.94},{"t":2002,"v":49.23},{"t":2004,"v":48.57},{"t":2006,"v":49.53},{"t":2008,"v":48.71},{"t":2010,"v":49.32},{"t":2012,"v":48.48},{"t":2014,"v":49.06},{"t":2016,"v":48.66},{"t":2018,"v":49.44},
{"t":2020,"v":48.59},{"t":2022,"v":49.27},{"t":2024,"v":48.43},{"t":2026,"v":49.56},{"t":2028,"v":48.82},{"t":2030,"v":49.39},{"t":2032,"v":48.53},{"t":2034,"v":49.15},{"t":2036,"v":48.74},{"t":2038,"v":49.5},{"t":2040,"v":48.41},{"t":2042,"v":49.33},{"t":2044,"v":48.97},{"t":2046,"v":49.61},{"t":2048,"v":48.62},{"t":2050,"v":49.2},{"t":2052,"v":48.47},{"t":2054,"v":49.45},{"t":2056,"v":49.75},{"t":2058,"v":49.24},{"t":2060,"v":48.56},{"t":2062,"v":49.57},{"t":2064,"v":48.89},{"t":2066,"v":49.35},{"t":2068,"v":48.5},
{"t":2070,"v":49.4},{"t":2072,"v":48.65},{"t":2074,"v":49.19},{"t":2076,"v":48.44},{"t":2078,"v":49.54},{"t":2080,"v":48.87},{"t":2082,"v":49.31},{"t":2084,"v":48.58},{"t":2086,"v":49.47},{"t":2088,"v":48.7},{"t":2090,"v":49.12},{"t":2092,"v":48.37},{"t":2094,"v":49.59},{"t":2096,"v":48.92},{"t":2098,"v":49.26},{"t":2100,"v":48.51},{"t":2102,"v":49.43},{"t":2104,"v":48.67},{"t":2106,"v":49.08},{"t":2108,"v":48.46},{"t":2110,"v":49.52},{"t":2112,"v":48.81},{"t":2114,"v":49.36},{"t":2116,"v":48.6},{"t":2118,"v":49.22},
{"t":2120,"v":48.72},{"t":2122,"v":49.48},{"t":2124,"v":48.55},{"t":2126,"v":49.29},{"t":2128,"v":48.4},{"t":2130,"v":49.6},{"t":2132,"v":49.0},{"t":2134,"v":48.63},{"t":2136,"v":49.37},{"t":2138,"v":48.49},{"t":2140,"v":49.16},{"t":2142,"v":48.78},{"t":2144,"v":49.55},{"t":2146,"v":48.57},{"t":2148,"v":49.23},{"t":2150,"v":48.45},{"t":2152,"v":49.44},{"t":2154,"v":48.86},{"t":2156,"v":49.33},{"t":2158,"v":48.66},{"t":2160,"v":49.82},{"t":2162,"v":48.42},{"t":2164,"v":49.14},{"t":2166,"v":48.75},{"t":2168,"v":49.46},
{"t":2170,"v":48.53},{"t":2172,"v":49.35},{"t":2174,"v":48.84},{"t":2176,"v":49.18},{"t":2178,"v":48.46},{"t":2180,"v":49.57},{"t":2182,"v":48.69},{"t":2184,"v":49.3},{"t":2186,"v":48.39},{"t":2188,"v":49.49},{"t":2190,"v":48.95},{"t":2192,"v":49.24},{"t":2194,"v":48.6},{"t":2196,"v":49.42},{"t":2198,"v":48.52},{"t":2200,"v":49.11},{"t":2202,"v":49.82},{"t":2204,"v":49.61},{"t":2206,"v":48.44},{"t":2208,"v":49.27},{"t":2210,"v":48.89},{"t":2212,"v":49.54},{"t":2214,"v":48.64},{"t":2216,"v":49.2},{"t":2218,"v":48.48},
{"t":2220,"v":49.38},{"t":2222,"v":48.7},{"t":2224,"v":49.52},{"t":2226,"v":48.56},{"t":2228,"v":49.13},{"t":2230,"v":48.81},{"t":2232,"v":49.45},{"t":2234,"v":48.41},{"t":2236,"v":48.2},{"t":2238,"v":48.67},{"t":2240,"v":49.58},{"t":2242,"v":48.98},{"t":2244,"v":49.21},{"t":2246,"v":48.5},{"t":2248,"v":49.4},{"t":2250,"v":48.62},{"t":2252,"v":49.32},{"t":2254,"v":48.45},{"t":2256,"v":49.56},{"t":2258,"v":48.73},{"t":2260,"v":49.17},{"t":2262,"v":48.58},{"t":2264,"v":49.47},{"t":2266,"v":48.9},{"t":2268,"v":49.25},
{"t":2270,"v":48.43},{"t":2272,"v":49.5},{"t":2274,"v":48.65},{"t":2276,"v":49.34},{"t":2278,"v":48.86},{"t":2280,"v":49.6},{"t":2282,"v":48.53},{"t":2284,"v":49.19},{"t":2286,"v":48.74},{"t":2288,"v":49.44},{"t":2290,"v":48.38},{"t":2292,"v":49.27},{"t":2294,"v":48.61},{"t":2296,"v":49.55},{"t":2298,"v":49.03},{"t":2300,"v":48.47},{"t":2302,"v":49.36},{"t":2304,"v":48.68},{"t":2306,"v":49.12},{"t":2308,"v":48.55},{"t":2310,"v":49.48},{"t":2312,"v":48.8},{"t":2314,"v":48.24},{"t":2316,"v":48.42},{"t":2318,"v":49.58},
{"t":2320,"v":48.71},{"t":2322,"v":49.31},{"t":2324,"v":48.49},{"t":2326,"v":49.46},{"t":2328,"v":48.92},{"t":2330,"v":49.16},{"t":2332,"v":48.6},{"t":2334,"v":49.53},{"t":2336,"v":48.44},{"t":2338,"v":49.25},{"t":2340,"v":48.77},{"t":2342,"v":49.41},{"t":2344,"v":48.57},{"t":2346,"v":49.62},{"t":2348,"v":48.85},{"t":2350,"v":49.2},{"t":2352,"v":48.51},{"t":2354,"v":49.37},{"t":2356,"v":48.66},{"t":2358,"v":49.09},{"t":2360,"v":48.4},{"t":2362,"v":49.49},{"t":2364,"v":48.96},{"t":2366,"v":49.29},{"t":2368,"v":48.63},
{"t":2370,"v":49.56},{"t":2372,"v":48.48},{"t":2374,"v":49.22},{"t":2376,"v":48.72},{"t":2378,"v":49.43},{"t":2380,"v":48.59},{"t":2382,"v":49.33},{"t":2384,"v":48.88},{"t":2386,"v":49.59},{"t":2388,"v":48.45},{"t":2390,"v":49.14},{"t":2392,"v":48.67},{"t":2394,"v":49.5},{"t":2396,"v":48.54},{"t":2398,"v":49.26},{"t":2400,"v":48.79},{"t":2402,"v":49.45},{"t":2404,"v":48.39},{"t":2406,"v":49.35},{"t":2408,"v":49.01},{"t":2410,"v":48.62},{"t":2412,"v":49.18},{"t":2414,"v":48.5},{"t":2416,"v":49.54},{"t":2418,"v":48.75},
{"t":2420,"v":49.3},{"t":2422,"v":48.56},{"t":2424,"v":49.47},{"t":2426,"v":48.83},{"t":2428,"v":49.21},{"t":2430,"v":48.43},{"t":2432,"v":49.6},{"t":2434,"v":48.69},{"t":2436,"v":49.38},{"t":2438,"v":48.52},{"t":2440,"v":49.11},{"t":2442,"v":48.93},{"t":2444,"v":49.52},{"t":2446,"v":48.61},{"t":2448,"v":49.27},{"t":2450,"v":48.46},{"t":2452,"v":49.44},{"t":2454,"v":48.76},{"t":2456,"v":49.17},{"t":2458,"v":48.58},{"t":2460,"v":49.57},{"t":2462,"v":48.87},{"t":2464,"v":49.34},{"t":2466,"v":48.41},{"t":2468,"v":49.24},
{"t":2470,"v":48.68},{"t":2472,"v":49.49},{"t":2474,"v":48.55},{"t":2476,"v":49.19},{"t":2478,"v":48.9},{"t":2480,"v":49.4},{"t":2482,"v":48.47},{"t":2484,"v":49.58},{"t":2486,"v":48.73},{"t":2488,"v":49.28},{"t":2490,"v":48.6},{"t":2492,"v":49.36},{"t":2494,"v":48.44},{"t":2496,"v":49.53},{"t":2498,"v":48.82},{"t":2500,"v":49.15},
{"t":1421,"v":49.04},{"t":1425,"v":49.21},{"t":1429,"v":48.89},{"t":1433,"v":49.3},{"t":1437,"v":49.13},{"t":1441,"v":48.97},{"t":1445,"v":49.35},{"t":1449,"v":49.08},{"t":1453,"v":48.92},{"t":1457,"v":49.24},{"t":1461,"v":49.01},{"t":1465,"v":49.39},{"t":1469,"v":48.79},{"t":1473,"v":49.11},{"t":1477,"v":49.03},{"t":1481,"v":49.21},{"t":1485,"v":48.87},{"t":1489,"v":49.09},{"t":1493,"v":48.95},{"t":1497,"v":49.26},{"t":1501,"v":48.84},{"t":1505,"v":49.16},{"t":1509,"v":48.99},{"t":1513,"v":48.92},
{"t":1517,"v":49.0},{"t":1521,"v":48.8},{"t":1525,"v":49.16},{"t":1529,"v":48.72},{"t":1533,"v":49.11},{"t":1537,"v":48.97},{"t":1541,"v":48.85},{"t":1545,"v":49.22},{"t":1549,"v":48.9},{"t":1553,"v":49.04},{"t":1557,"v":48.75},{"t":1561,"v":49.14},{"t":1565,"v":48.83},{"t":1569,"v":49.19},{"t":1573,"v":48.94},{"t":1577,"v":48.78},{"t":1581,"v":49.07},{"t":1585,"v":48.88},{"t":1589,"v":49.25},{"t":1593,"v":48.73},{"t":1597,"v":49.02},{"t":1601,"v":48.96},{"t":1605,"v":49.12},{"t":1609,"v":48.81},
{"t":1613,"v":48.93},{"t":1617,"v":49.17},{"t":1621,"v":48.79},{"t":1625,"v":49.05},{"t":1629,"v":48.86},{"t":1633,"v":49.21},{"t":1637,"v":48.74},{"t":1641,"v":49.1},{"t":1645,"v":48.99},{"t":1649,"v":48.82},{"t":1653,"v":49.13},{"t":1657,"v":48.7},{"t":1661,"v":49.08},{"t":1665,"v":48.91},{"t":1669,"v":49.18},{"t":1673,"v":48.77},{"t":1677,"v":49.03},{"t":1681,"v":48.95},{"t":1685,"v":48.84},{"t":1689,"v":49.23},{"t":1693,"v":48.89},{"t":1697,"v":49.06},{"t":1701,"v":48.76},{"t":1705,"v":49.15},
{"t":1709,"v":48.92},{"t":1713,"v":49.08},{"t":1717,"v":48.77},{"t":1721,"v":49.16},{"t":1725,"v":48.85},{"t":1729,"v":49.02},{"t":1733,"v":48.71},{"t":1737,"v":49.21},{"t":1741,"v":48.96},{"t":1745,"v":48.81},{"t":1749,"v":49.12},{"t":1753,"v":48.74},{"t":1757,"v":49.05},{"t":1761,"v":48.88},{"t":1765,"v":49.19},{"t":1769,"v":48.79},{"t":1773,"v":48.99},{"t":1777,"v":49.1},{"t":1781,"v":48.83},{"t":1785,"v":49.25},{"t":1789,"v":48.9},{"t":1793,"v":48.73},{"t":1797,"v":49.14},{"t":1801,"v":49.0},
{"t":1805,"v":48.86},{"t":1809,"v":49.18},{"t":1813,"v":48.95},{"t":1817,"v":48.76},{"t":1821,"v":49.07},{"t":1825,"v":48.84},{"t":1829,"v":49.23},{"t":1833,"v":48.93},{"t":1837,"v":48.72},{"t":1841,"v":49.11},{"t":1845,"v":49.01},{"t":1849,"v":48.8},{"t":1853,"v":49.15},{"t":1857,"v":48.89},{"t":1861,"v":49.04},{"t":1865,"v":48.75},{"t":1869,"v":49.2},{"t":1873,"v":48.97},{"t":1877,"v":48.82},{"t":1881,"v":49.09},{"t":1885,"v":48.7},{"t":1889,"v":49.13},{"t":1893,"v":48.94},{"t":1897,"v":49.06},
{"t":1901,"v":49.03},{"t":1905,"v":48.78},{"t":1909,"v":49.17},{"t":1913,"v":48.91},{"t":1917,"v":48.84},{"t":1921,"v":49.22},{"t":1925,"v":48.98},{"t":1929,"v":48.73},{"t":1933,"v":49.1},{"t":1937,"v":48.87},{"t":1941,"v":49.06},{"t":1945,"v":48.8},{"t":1949,"v":49.24},{"t":1953,"v":48.95},{"t":1957,"v":48.76},{"t":1961,"v":49.12},{"t":1965,"v":48.9},{"t":1969,"v":49.01},{"t":1973,"v":48.85},{"t":1977,"v":49.19},{"t":1981,"v":48.74},{"t":1985,"v":49.08},{"t":1989,"v":48.93},{"t":1993,"v":49.15},
{"t":1997,"v":48.81},{"t":2001,"v":49.11},{"t":2005,"v":48.97},{"t":2009,"v":49.2},{"t":2013,"v":48.75},{"t":2017,"v":49.04},{"t":2021,"v":48.88},{"t":2025,"v":49.16},{"t":2029,"v":48.72},{"t":2033,"v":49.0},{"t":2037,"v":48.92},{"t":2041,"v":49.13},{"t":2045,"v":48.79},{"t":2049,"v":49.07},{"t":2053,"v":48.86},{"t":2057,"v":49.25},{"t":2061,"v":48.94},{"t":2065,"v":48.77},{"t":2069,"v":49.09},{"t":2073,"v":48.83},{"t":2077,"v":49.18},{"t":2081,"v":48.99},{"t":2085,"v":48.71},{"t":2089,"v":49.05},
{"t":2093,"v":49.14},{"t":2097,"v":48.83},{"t":2101,"v":49.02},{"t":2105,"v":48.76},{"t":2109,"v":49.19},{"t":2113,"v":48.9},{"t":2117,"v":49.07},{"t":2121,"v":48.73},{"t":2125,"v":48.96},{"t":2129,"v":49.23},{"t":2133,"v":48.85},{"t":2137,"v":49.0},{"t":2141,"v":48.78},{"t":2145,"v":49.12},{"t":2149,"v":48.94},{"t":2153,"v":48.7},{"t":2157,"v":49.17},{"t":2161,"v":48.88},{"t":2165,"v":49.05},{"t":2169,"v":48.81},{"t":2173,"v":49.21},{"t":2177,"v":48.92},{"t":2181,"v":48.75},{"t":2185,"v":49.1},
{"t":2189,"v":48.89},{"t":2193,"v":49.06},{"t":2197,"v":48.74},{"t":2201,"v":49.15},{"t":2205,"v":48.98},{"t":2209,"v":48.82},{"t":2213,"v":49.2},{"t":2217,"v":48.93},{"t":2221,"v":48.77},{"t":2225,"v":49.09},{"t":2229,"v":48.86},{"t":2233,"v":49.24},{"t":2237,"v":48.71},{"t":2241,"v":49.03},{"t":2245,"v":48.95},{"t":2249,"v":49.13},{"t":2253,"v":48.79},{"t":2257,"v":49.01},{"t":2261,"v":48.87},{"t":2265,"v":49.18},{"t":2269,"v":48.76},{"t":2273,"v":49.08},{"t":2277,"v":48.91},{"t":2281,"v":48.84},
{"t":2285,"v":48.81},{"t":2289,"v":49.12},{"t":2293,"v":48.96},{"t":2297,"v":49.02},{"t":2301,"v":48.73},{"t":2305,"v":49.25},{"t":2309,"v":48.88},{"t":2313,"v":49.07},{"t":2317,"v":48.78},{"t":2321,"v":48.94},{"t":2325,"v":49.19},{"t":2329,"v":48.83},{"t":2333,"v":49.14},{"t":2337,"v":48.75},{"t":2341,"v":49.04},{"t":2345,"v":48.9},{"t":2349,"v":49.22},{"t":2353,"v":48.85},{"t":2357,"v":48.97},{"t":2361,"v":49.11},{"t":2365,"v":48.72},{"t":2369,"v":49.16},{"t":2373,"v":48.8},{"t":2377,"v":49.0},
{"t":2381,"v":49.15},{"t":2385,"v":48.76},{"t":2389,"v":49.06},{"t":2393,"v":48.89},{"t":2397,"v":49.23},{"t":2401,"v":48.84},{"t":2405,"v":48.95},{"t":2409,"v":49.03},{"t":2413,"v":48.77},{"t":2417,"v":49.18},{"t":2421,"v":48.91},{"t":2425,"v":49.08},{"t":2429,"v":48.7},{"t":2433,"v":49.13},{"t":2437,"v":48.82},{"t":2441,"v":48.99},{"t":2445,"v":49.1},{"t":2449,"v":48.74},{"t":2453,"v":49.21},{"t":2457,"v":48.86},{"t":2461,"v":49.05},{"t":2465,"v":48.79},{"t":2469,"v":49.17},{"t":2473,"v":48.93},
{"t":2477,"v":48.95},{"t":2481,"v":49.12},{"t":2485,"v":48.8},{"t":2489,"v":49.03},{"t":2493,"v":48.88},{"t":2497,"v":49.17}
]},
"layer":[
{"mark":{"type":"square","size":12,"color":"#000","opacity":1,"filled":true,"strokeWidth":0},
 "encoding":{
  "x":{"field":"t","type":"quantitative","scale":{"domain":[0,2500],"nice":false,"zero":false},
   "axis":{"title":"Time (s)","values":[0,500,1000,1500,2000,2500],"labelExpr":"datum.value == 0 ? '0' : format(datum.value / 1000000, '~g')","grid":false,"domain":false,"ticks":true,"tickSize":-4,"tickColor":"#888","labelFontSize":8.5,"labelColor":"#333","labelPadding":12,"labelFlush":false,"titleFontSize":11,"titleFontWeight":"normal","titleColor":"#222","titleY":28,"titleBaseline":"alphabetic"}},
  "y":{"field":"v","type":"quantitative","scale":{"domain":[48,60],"nice":false,"zero":false},
   "axis":{"title":"High SR voltage (V)","values":[48,50,52,54,56,58,60],"grid":false,"domain":false,"ticks":true,"tickSize":-4,"tickColor":"#888","labelFontSize":8.5,"labelColor":"#333","labelPadding":13,"labelFlush":false,"titleFontSize":11,"titleFontWeight":"normal","titleColor":"#222","titleX":-26,"titleY":181.5,"titleBaseline":"alphabetic"}}
 }},
{"data":{"values":[{"t":0,"v":48}]},
 "mark":{"type":"point","opacity":0},
 "encoding":{
  "x":{"field":"t","type":"quantitative","axis":{"orient":"top","labels":false,"title":null,"values":[0,500,1000,1500,2000,2500],"grid":false,"domain":false,"tickSize":-4,"tickColor":"#888"}},
  "y":{"field":"v","type":"quantitative","axis":{"orient":"right","labels":false,"title":null,"values":[48,50,52,54,56,58,60],"grid":false,"domain":false,"tickSize":-4,"tickColor":"#888"}}
 }}
],
"resolve":{"axis":{"x":"independent","y":"independent"}}
}
